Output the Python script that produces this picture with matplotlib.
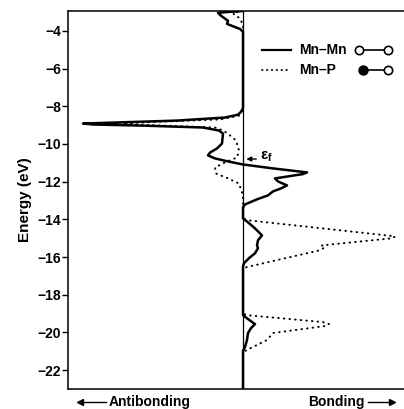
import matplotlib
matplotlib.use("Agg")
import matplotlib.pyplot as plt
from matplotlib.lines import Line2D

# Mn-Mn COOP (solid): energy (eV) and overlap population (arb. units, + = bonding)
mm_energy = [-2.95, -3.0, -3.05, -3.2, -3.47, -3.63, -3.74, -3.9, -4.05, -8.1, -8.3, -8.45,
             -8.6, -8.76, -8.87, -8.92, -8.97, -9.03, -9.13, -9.29, -9.45, -9.98, -10.24,
             -10.46, -10.61, -10.77, -10.93, -11.09, -11.3, -11.51, -11.6, -11.83, -11.99,
             -12.2, -12.36, -12.52, -12.73, -12.94, -13.21, -13.37, -13.95, -14.16, -14.48,
             -14.85, -15.11, -15.38, -15.53, -15.8, -16.06, -16.33, -16.49, -19.08, -19.29,
             -19.56, -19.77, -20.03, -20.4, -20.77, -20.98, -23.0]
mm_value = [0, -15, -25, -22, -15, -16, -11, -3, 0, 0, -2, -5,
            -18, -65, -130, -160, -150, -100, -40, -24, -20, -21, -26,
            -33, -35, -28, -15, 0, 30, 64, 60, 32, 35,
            44, 38, 30, 25, 14, 2, 0, 0, 5, 12,
            19, 15, 14, 15, 12, 6, 1, 0, 0, 5,
            12, 8, 5, 4, 2, 0, 0]

# Mn-P COOP (dotted)
mp_energy = [-2.95, -3.05, -3.2, -3.3, -3.47, -3.68, -8.2, -8.5, -8.7, -8.82, -8.9, -8.95,
             -9.03, -9.13, -9.29, -9.5, -9.82, -10.35, -10.72, -10.98, -11.25, -11.57,
             -11.83, -12.1, -12.73, -13.95, -14.05, -14.9, -15.0, -15.38, -15.48, -15.64,
             -16.53, -16.6, -18.97, -19.08, -19.45, -19.56, -19.66, -20.03, -20.4, -20.93,
             -21.04, -23.0]
mp_value = [0, -10, -8, -4, -2, 0, 0, -4, -22, -80, -120, -115,
            -80, -28, -20, -14, -7, -4, -6, -18, -28, -27,
            -15, -4, 0, 0, 5, 152, 150, 79, 82, 77,
            4, 0, 0, 3, 80, 86, 82, 30, 24, 4,
            0, 0]

yticks = [-4, -6, -8, -10, -12, -14, -16, -18, -20, -22]
fermi_level = -10.8

plt.rcParams['font.family'] = ['Liberation Sans', 'DejaVu Sans']
plt.rcParams['axes.unicode_minus'] = True

fig = plt.figure(figsize=(4.04, 4.09), dpi=100)
ax = fig.add_axes([68/404, 20/409, 1 - 68/404, 378/409])

ax.plot(mm_value, mm_energy, color='black', lw=1.8, solid_joinstyle='round')
ax.plot(mp_value, mp_energy, color='black', lw=1.4, linestyle=(0, (0.3, 2.6)),
        dash_capstyle='round')
ax.axvline(0, color='black', lw=0.9)

ax.set_xlim(-175, 161)
ax.set_ylim(-23.0, -2.95)
ax.set_yticks(yticks)
ax.set_yticklabels([f"\u2212{abs(t)}" for t in yticks], fontsize=10, fontweight='bold')
ax.set_xticks([])
ax.tick_params(axis='y', direction='out', length=4, width=1, pad=1)
ax.spines['right'].set_visible(False)
for s in ['left', 'top', 'bottom']:
    ax.spines[s].set_linewidth(1.1)

ax.set_ylabel('Energy (eV)', fontsize=11, fontweight='bold', labelpad=4)

# Fermi level marker
ax.annotate('', xy=(0.5, fermi_level), xytext=(16, fermi_level),
            arrowprops=dict(arrowstyle='-|>', color='black', lw=1.0, mutation_scale=7))
ax.text(17, fermi_level + 0.1, r'$\mathregular{\epsilon_f}$', fontsize=11, va='center',
        ha='left', fontweight='bold')

# Legend (hand-made)
def fx(px):
    return px / 404
def fy(py):
    return 1 - py / 409

fig.add_artist(Line2D([fx(262), fx(291)], [fy(50), fy(50)], color='black', lw=1.6))
fig.add_artist(Line2D([fx(262), fx(291)], [fy(70), fy(70)], color='black', lw=1.3,
                      linestyle=(0, (0.3, 2.4)), dash_capstyle='round'))
fig.text(fx(299), fy(50), 'Mn\u2013Mn', fontsize=10, fontweight='bold', va='center', ha='left')
fig.text(fx(299), fy(70), 'Mn\u2013P', fontsize=10, fontweight='bold', va='center', ha='left')
fig.add_artist(Line2D([fx(359), fx(388)], [fy(50), fy(50)], color='black', lw=1.2,
                      marker='o', markersize=6, markerfacecolor='white',
                      markeredgecolor='black', markeredgewidth=1.2))
fig.add_artist(Line2D([fx(363), fx(388)], [fy(70), fy(70)], color='black', lw=1.2))
fig.add_artist(Line2D([fx(363)], [fy(70)], color='black', marker='o', markersize=6.5,
                      markerfacecolor='black', markeredgecolor='black'))
fig.add_artist(Line2D([fx(388)], [fy(70)], color='black', marker='o', markersize=6,
                      markerfacecolor='white', markeredgecolor='black', markeredgewidth=1.2))

# Bottom direction labels
fig.text(fx(109), fy(402), 'Antibonding', fontsize=10, fontweight='bold', va='center', ha='left')
fig.add_artist(Line2D([fx(80), fx(106)], [fy(402), fy(402)], color='black', lw=1.0,
                      marker='<', markevery=[0], markersize=4))
fig.text(fx(365), fy(402), 'Bonding', fontsize=10, fontweight='bold', va='center', ha='right')
fig.add_artist(Line2D([fx(368), fx(392)], [fy(402), fy(402)], color='black', lw=1.0,
                      marker='>', markevery=[1], markersize=4))

fig.savefig('out.png', dpi=100)
